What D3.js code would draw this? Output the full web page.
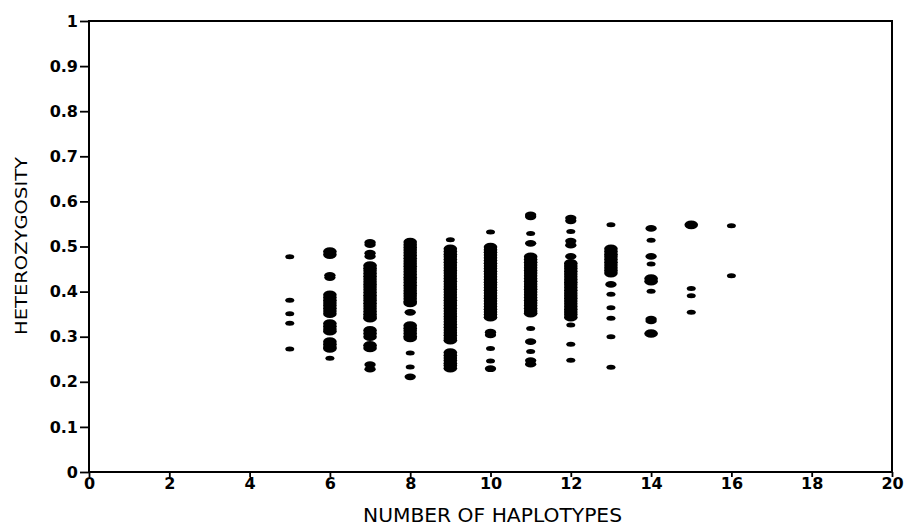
<!DOCTYPE html>
<html>
<head>
<meta charset="utf-8">
<script src="https://cdn.jsdelivr.net/npm/d3@7"></script>
<style>
  html, body { margin: 0; padding: 0; background: #fff; }
  svg { display: block; }
</style>
</head>
<body>
<svg id="chart" width="905" height="525"></svg>
<script>
// ---------------- DATA ----------------
// number of haplotypes (x categories)
const haplotypeCounts = [5, 6, 7, 8, 9, 10, 11, 12, 13, 14, 15, 16];
const xTickValues = [0, 2, 4, 6, 8, 10, 12, 14, 16, 18, 20];
const yTickValues = [0, 0.1, 0.2, 0.3, 0.4, 0.5, 0.6, 0.7, 0.8, 0.9, 1];
const yTickLabels = ["0", "0.1", "0.2", "0.3", "0.4", "0.5", "0.6", "0.7", "0.8", "0.9", "1"];
const xTitle = "NUMBER OF HAPLOTYPES";
const yTitle = "HETEROZYGOSITY";

// heterozygosity values per haplotype count: [heterozygosity, overlapping points]
const het5 = [[0.477,1],[0.381,1],[0.351,1],[0.330,1],[0.273,1]];
const het6 = [[0.489,3],[0.482,3],[0.436,2],[0.431,2],
  [0.393,3],[0.387,3],[0.381,3],[0.375,3],[0.369,3],[0.363,3],[0.357,3],[0.351,3],
  [0.329,3],[0.323,3],[0.317,3],[0.312,3],
  [0.289,3],[0.283,3],[0.277,3],[0.274,3],[0.252,1]];
const het7 = [[0.509,2],[0.504,2],[0.485,2],[0.478,2],
  [0.458,3],[0.452,3],[0.446,3],[0.440,3],[0.434,3],[0.428,3],[0.422,3],[0.416,3],[0.410,3],
  [0.404,3],[0.398,3],[0.392,3],[0.386,3],[0.380,3],[0.374,3],[0.368,3],[0.362,3],[0.356,3],
  [0.350,3],[0.344,3],[0.341,3],
  [0.314,3],[0.307,3],[0.300,3],[0.281,3],[0.275,3],
  [0.238,2],[0.228,2]];
const het8 = [[0.510,3],[0.504,3],[0.498,3],[0.492,3],[0.486,3],[0.480,3],[0.474,3],[0.468,3],
  [0.462,3],[0.456,3],[0.450,3],[0.444,3],[0.438,3],[0.432,3],[0.426,3],[0.420,3],[0.414,3],
  [0.408,3],[0.402,3],[0.396,3],[0.390,3],[0.384,3],[0.378,3],[0.375,3],
  [0.354,2],
  [0.325,3],[0.319,3],[0.313,3],[0.307,3],[0.301,3],[0.297,3],
  [0.264,1],[0.233,1],[0.211,2]];
const het9 = [[0.515,1],
  [0.495,3],[0.489,3],[0.483,3],[0.477,3],[0.471,3],[0.465,3],[0.459,3],[0.453,3],[0.447,3],
  [0.441,3],[0.435,3],[0.429,3],[0.423,3],[0.417,3],[0.411,3],[0.405,3],[0.399,3],[0.393,3],
  [0.387,3],[0.381,3],[0.375,3],[0.369,3],[0.363,3],[0.357,3],[0.351,3],[0.345,3],[0.339,3],
  [0.333,3],[0.327,3],[0.321,3],[0.315,3],[0.309,3],[0.303,3],[0.297,3],[0.292,3],
  [0.265,3],[0.259,3],[0.253,3],[0.247,3],[0.241,3],[0.236,3],[0.230,3]];
const het10 = [[0.532,1],
  [0.499,3],[0.493,3],[0.487,3],[0.481,3],[0.475,3],[0.469,3],[0.463,3],[0.457,3],[0.451,3],
  [0.445,3],[0.439,3],[0.433,3],[0.427,3],[0.421,3],[0.415,3],[0.409,3],[0.403,3],[0.397,3],
  [0.391,3],[0.385,3],[0.379,3],[0.373,3],[0.367,3],[0.361,3],[0.355,3],[0.349,3],[0.343,3],
  [0.310,2],[0.304,2],[0.274,1],[0.246,1],[0.229,2]];
const het11 = [[0.570,2],[0.566,2],[0.529,1],[0.507,2],
  [0.477,3],[0.471,3],[0.465,3],[0.459,3],[0.453,3],[0.447,3],[0.441,3],[0.435,3],[0.429,3],
  [0.423,3],[0.417,3],[0.411,3],[0.405,3],[0.399,3],[0.393,3],[0.387,3],[0.381,3],[0.375,3],
  [0.369,3],[0.363,3],[0.357,3],[0.352,3],
  [0.318,1],[0.289,2],[0.267,1],[0.247,2],[0.239,2]];
const het12 = [[0.563,2],[0.557,2],[0.533,1],[0.512,2],[0.503,2],[0.478,2],
  [0.463,3],[0.457,3],[0.451,3],[0.445,3],[0.439,3],[0.433,3],[0.427,3],[0.421,3],[0.415,3],
  [0.409,3],[0.403,3],[0.397,3],[0.391,3],[0.385,3],[0.379,3],[0.373,3],[0.367,3],[0.361,3],
  [0.355,3],[0.349,3],[0.343,3],
  [0.326,1],[0.283,1],[0.248,1]];
const het13 = [[0.548,1],
  [0.495,3],[0.489,3],[0.483,3],[0.477,3],[0.471,3],[0.465,3],[0.459,3],[0.453,3],[0.447,3],[0.441,3],
  [0.416,2],[0.394,1],[0.364,1],[0.341,1],[0.300,1],[0.232,1]];
const het14 = [[0.540,2],[0.514,1],[0.478,2],[0.461,1],[0.429,3],[0.423,3],[0.401,1],
  [0.339,2],[0.335,2],[0.307,3]];
const het15 = [[0.548,3],[0.407,1],[0.391,1],[0.354,1]];
const het16 = [[0.546,1],[0.435,1]];

const columns = [het5, het6, het7, het8, het9, het10, het11, het12, het13, het14, het15, het16];

// ---------------- CHART ----------------
const svg = d3.select("#chart");
const x = d3.scaleLinear().domain([0, 20]).range([89, 892]);
const y = d3.scaleLinear().domain([0, 1]).range([472, 21]);
const rx = d3.scaleLinear().domain([1, 3]).range([4.5, 6.8]);
const ry = d3.scaleLinear().domain([1, 3]).range([2.5, 4.3]);

const pts = [];
columns.forEach((col, i) => col.forEach(([v, n]) => pts.push({h: haplotypeCounts[i], v, n})));

svg.append("g").selectAll("ellipse").data(pts).join("ellipse")
  .attr("cx", d => x(d.h))
  .attr("cy", d => y(d.v))
  .attr("rx", d => rx(d.n))
  .attr("ry", d => ry(d.n))
  .attr("fill", "#000");

// frame
svg.append("rect")
  .attr("x", x(0)).attr("y", y(1))
  .attr("width", x(20) - x(0)).attr("height", y(0) - y(1))
  .attr("fill", "none").attr("stroke", "#000").attr("stroke-width", 2);

const tickFont = "'DejaVu Sans', sans-serif";

const yAxis = svg.append("g").attr("transform", `translate(${x(0)},0)`)
  .call(d3.axisLeft(y).tickValues(yTickValues)
    .tickFormat((d, i) => yTickLabels[i]).tickSize(9).tickPadding(2));
const xAxis = svg.append("g").attr("transform", `translate(0,${y(0)})`)
  .call(d3.axisBottom(x).tickValues(xTickValues)
    .tickFormat(d3.format("d")).tickSize(5).tickPadding(1));

[xAxis, yAxis].forEach(g => {
  g.select(".domain").remove();
  g.selectAll(".tick line").attr("stroke", "#000").attr("stroke-width", 1.8);
  g.selectAll(".tick text").attr("fill", "#000")
    .style("font-family", tickFont).style("font-weight", "bold").style("font-size", "16px");
});

// axis titles
svg.append("text")
  .attr("x", 492.5).attr("y", 521.5)
  .attr("text-anchor", "middle")
  .attr("textLength", 259).attr("lengthAdjust", "spacingAndGlyphs")
  .style("font-family", tickFont).style("font-size", "19px")
  .attr("fill", "#000")
  .text(xTitle);

svg.append("text")
  .attr("transform", "translate(27,246) rotate(-90)")
  .attr("text-anchor", "middle")
  .attr("textLength", 178).attr("lengthAdjust", "spacingAndGlyphs")
  .style("font-family", tickFont).style("font-size", "16.5px")
  .attr("fill", "#000")
  .text(yTitle);
</script>
</body>
</html>
